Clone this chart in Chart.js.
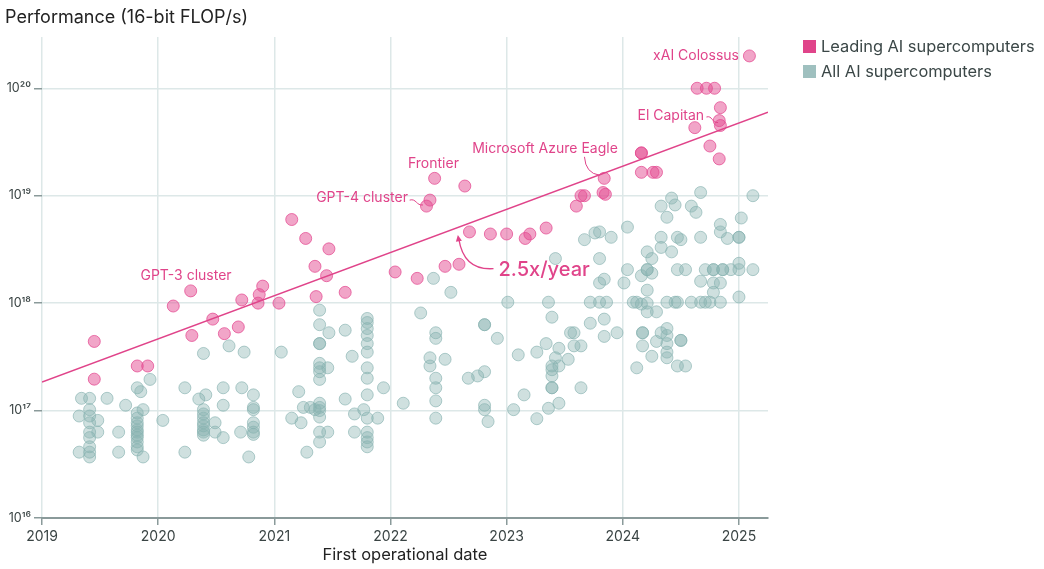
<!DOCTYPE html>
<html>
<head>
<meta charset="utf-8">
<script src="https://cdn.jsdelivr.net/npm/chart.js@4.4.1/dist/chart.umd.min.js"></script>
<style>
  body { margin: 0; background: #fff; font-family: Inter, "Noto Sans", sans-serif; }
  #wrap { position: relative; width: 1044px; height: 569px; }
  #title { position: absolute; left: 5px; top: 6px; font-size: 18px; color: #222; }
  .leg { position: absolute; left: 803px; font-size: 16.4px; color: #3b4747; display: flex; align-items: center; }
  .leg span { display: inline-block; width: 13px; height: 13px; margin-right: 5px; }
</style>
</head>
<body>
<div id="wrap">
  <canvas id="chart" width="1044" height="569"></canvas>
  <div id="title">Performance (16-bit FLOP/s)</div>
  <div class="leg" style="top:36px"><span style="background:#e0448a"></span>Leading AI supercomputers</div>
  <div class="leg" style="top:61px"><span style="background:#9fc0bf"></span>All AI supercomputers</div>
</div>
<script>
// leading AI supercomputers (first operational date, 16-bit FLOP/s)
const leadingYears = [
  2019.45, 2019.45, 2019.82, 2019.91, 2020.13, 2020.28, 2020.29, 2020.47, 2020.57, 2020.69,
  2020.72, 2020.86, 2020.87, 2020.90, 2021.04, 2021.15, 2021.27, 2021.35, 2021.36, 2021.45,
  2021.47, 2021.61, 2022.04, 2022.23, 2022.31, 2022.34, 2022.38, 2022.47, 2022.59, 2022.64,
  2022.68, 2022.86, 2023.00, 2023.16, 2023.20, 2023.34, 2023.60, 2023.64, 2023.67, 2023.84,
  2023.83, 2023.85, 2024.16, 2024.16, 2024.16, 2024.26, 2024.29, 2024.62, 2024.64, 2024.72,
  2024.79, 2024.75, 2024.83, 2024.84, 2024.83, 2024.84, 2025.09
]
const leadingValues = [
  4.4e17, 1.96e17, 2.6e17, 2.6e17, 9.4e17, 1.3e18, 5.0e17, 7.1e17, 5.2e17, 6.0e17,
  1.07e18, 1.0e18, 1.2e18, 1.44e18, 1.0e18, 6.0e18, 4.0e18, 2.2e18, 1.15e18, 1.8e18,
  3.2e18, 1.26e18, 1.95e18, 1.7e18, 8.0e18, 9.1e18, 1.45e19, 2.2e18, 2.3e18, 1.23e19,
  4.6e18, 4.4e18, 4.4e18, 4.0e18, 4.4e18, 5.0e18, 8.0e18, 1.0e19, 1.0e19, 1.45e19,
  1.07e19, 1.03e19, 2.5e19, 2.5e19, 1.65e19, 1.65e19, 1.65e19, 4.3e19, 1.0e20, 1.0e20,
  1.0e20, 2.9e19, 2.2e19, 6.6e19, 5.0e19, 4.5e19, 2.0e20
]

// all AI supercomputers
const allYears = [
  2020.39, 2020.61, 2020.74, 2021.06, 2019.93, 2019.82, 2019.85, 2019.34, 2019.41, 2019.56,
  2019.72, 2020.23, 2020.35, 2020.41, 2020.56, 2020.72, 2020.82, 2020.56, 2020.82, 2020.82,
  2019.32, 2019.41, 2019.41, 2019.41, 2019.41, 2019.41, 2019.41, 2019.41, 2019.41,
  2019.48, 2019.48, 2019.32, 2019.66, 2019.66,
  2019.82, 2019.82, 2019.82, 2019.82, 2019.82, 2019.82, 2019.82, 2019.82, 2019.82, 2019.82, 2019.82,
  2019.87, 2019.87, 2020.04, 2020.23,
  2020.39, 2020.39, 2020.39, 2020.39, 2020.39, 2020.39, 2020.39, 2020.39,
  2020.49, 2020.49, 2020.56, 2020.71, 2020.78, 2020.82, 2020.82, 2020.82, 2020.82,
  2021.39, 2021.39, 2021.47, 2021.39, 2021.39, 2021.61, 2021.67,
  2021.39, 2021.39, 2021.39, 2021.39, 2021.46, 2021.21,
  2021.80, 2021.80, 2021.80, 2021.80, 2021.80, 2021.80, 2021.80, 2021.80, 2021.80,
  2021.94, 2021.61, 2021.39, 2021.39, 2021.39, 2021.39, 2021.25, 2021.31, 2021.35, 2021.15,
  2021.23, 2021.39, 2021.39, 2021.46, 2021.28, 2021.69, 2021.77, 2021.80, 2021.89, 2021.69,
  2021.80, 2021.80, 2021.80, 2021.80, 2022.11,
  2022.26, 2022.37, 2022.39, 2022.39, 2022.34, 2022.34, 2022.47, 2022.39, 2022.39, 2022.39, 2022.39, 2022.52,
  2023.42, 2023.67, 2023.76, 2023.80, 2023.90, 2023.80, 2023.80, 2023.84, 2023.01, 2023.36,
  2023.39, 2023.72, 2023.80, 2023.86, 2023.84, 2023.72, 2023.84, 2023.95, 2022.81, 2022.81,
  2022.92, 2023.55, 2023.58, 2023.58, 2023.64, 2023.34, 2023.45, 2023.10, 2023.26, 2023.42,
  2023.53, 2023.39, 2023.39, 2023.39, 2023.39, 2023.45, 2022.67, 2022.75, 2022.81, 2023.39,
  2023.64, 2023.15, 2023.45, 2022.81, 2022.81, 2022.84, 2023.06, 2023.36, 2023.26,
  2024.67, 2025.12, 2024.33, 2024.42, 2024.45, 2024.59, 2024.63, 2024.38, 2025.02, 2024.84,
  2024.84, 2024.90, 2025.00, 2025.00, 2024.04, 2024.33, 2024.47, 2024.50, 2024.33, 2024.42,
  2024.67, 2024.21, 2024.25, 2024.04, 2024.21, 2024.21, 2024.16, 2024.25, 2024.47, 2024.54,
  2024.71, 2024.78, 2024.78, 2024.86, 2024.86, 2024.93, 2025.00, 2025.12, 2025.00,
  2024.67, 2024.78, 2024.84, 2024.78, 2024.21, 2024.01, 2025.00,
  2024.09, 2024.12, 2024.16, 2024.21, 2024.21, 2024.29, 2024.38, 2024.45, 2024.47,
  2024.59, 2024.67, 2024.71, 2024.75, 2024.84,
  2024.17, 2024.17, 2024.17, 2024.29, 2024.33,
  2024.38, 2024.38, 2024.38, 2024.38, 2024.38, 2024.50, 2024.50,
  2024.25, 2024.12, 2024.47, 2024.54
]
const allValues = [
  3.4e17, 4.0e17, 3.5e17, 3.5e17, 1.95e17, 1.63e17, 1.5e17, 1.3e17, 1.3e17, 1.3e17,
  1.12e17, 1.63e17, 1.28e17, 1.4e17, 1.63e17, 1.63e17, 1.4e17, 1.12e17, 1.07e17, 1.02e17,
  8.9e16, 1.02e17, 8.9e16, 7.7e16, 6.3e16, 5.6e16, 4.6e16, 4.1e16, 3.7e16,
  8.1e16, 6.3e16, 4.1e16, 6.3e16, 4.1e16,
  9.5e16, 8.5e16, 7.7e16, 7.2e16, 6.6e16, 6.3e16, 5.9e16, 5.6e16, 5.1e16, 4.6e16, 4.3e16,
  1.02e17, 3.7e16, 8.1e16, 4.1e16,
  1.02e17, 9.3e16, 8.5e16, 7.7e16, 7.2e16, 6.6e16, 6.3e16, 5.9e16,
  7.7e16, 6.3e16, 5.6e16, 6.3e16, 3.7e16, 7.7e16, 7.0e16, 6.3e16, 6.0e16,
  8.6e17, 6.3e17, 5.3e17, 4.2e17, 4.2e17, 5.6e17, 3.2e17,
  2.75e17, 2.5e17, 2.3e17, 1.95e17, 2.5e17, 1.5e17,
  7.2e17, 6.6e17, 5.8e17, 5.0e17, 4.2e17, 3.5e17, 2.5e17, 2.0e17, 1.4e17,
  1.63e17, 1.28e17, 1.17e17, 1.07e17, 1.0e17, 8.7e16, 1.07e17, 1.07e17, 1.02e17, 8.5e16,
  7.7e16, 6.3e16, 5.1e16, 6.3e16, 4.1e16, 9.3e16, 1.02e17, 8.5e16, 8.5e16, 6.3e16,
  6.3e16, 5.6e16, 5.1e16, 4.6e16, 1.17e17,
  8.1e17, 1.7e18, 5.3e17, 4.7e17, 3.1e17, 2.6e17, 3.0e17, 2.0e17, 1.63e17, 1.23e17, 8.5e16, 1.26e18,
  2.6e18, 3.9e18, 4.5e18, 4.6e18, 4.1e18, 2.6e18, 1.54e18, 1.67e18, 1.02e18, 1.02e18,
  7.4e17, 1.02e18, 1.02e18, 1.02e18, 7.1e17, 6.5e17, 4.9e17, 5.3e17, 6.3e17, 6.3e17,
  4.7e17, 5.3e17, 5.3e17, 4.0e17, 4.0e17, 4.2e17, 3.8e17, 3.3e17, 3.5e17, 3.1e17,
  3.0e17, 2.6e17, 2.4e17, 2.1e17, 1.63e17, 2.6e17, 2.0e17, 2.1e17, 2.3e17, 1.63e17,
  1.63e17, 1.4e17, 1.17e17, 1.12e17, 1.02e17, 7.9e16, 1.02e17, 1.05e17, 8.4e16,
  1.07e19, 1.0e19, 8.0e18, 9.5e18, 8.2e18, 8.0e18, 7.0e18, 6.3e18, 6.2e18, 5.4e18,
  4.6e18, 4.0e18, 4.1e18, 4.1e18, 5.1e18, 4.1e18, 4.1e18, 3.9e18, 3.3e18, 3.0e18,
  4.1e18, 3.0e18, 2.6e18, 2.05e18, 2.05e18, 2.05e18, 1.8e18, 1.9e18, 2.05e18, 2.05e18,
  2.05e18, 2.05e18, 2.05e18, 2.05e18, 2.05e18, 2.05e18, 2.05e18, 2.05e18, 2.35e18,
  1.6e18, 1.54e18, 1.54e18, 1.26e18, 1.32e18, 1.54e18, 1.14e18,
  1.02e18, 1.02e18, 9.8e17, 1.0e18, 8.3e17, 8.3e17, 1.02e18, 1.02e18, 1.02e18,
  1.02e18, 1.02e18, 1.02e18, 1.02e18, 1.02e18,
  5.3e17, 5.3e17, 4.0e17, 4.4e17, 5.3e17,
  5.8e17, 5.0e17, 4.2e17, 3.5e17, 3.1e17, 4.5e17, 4.5e17,
  3.2e17, 2.5e17, 2.6e17, 2.6e17
]

// trend fit, 2.5x per year
const trendYears = [2019, 2025.25]
const trendValues = [1.84e17, 5.98e19]

const yearTicks = [2019, 2020, 2021, 2022, 2023, 2024, 2025]
const powerTicks = [16, 17, 18, 19, 20]

const pink = '#e0448a'
const sup = {'0':'⁰','1':'¹','2':'²','3':'³','4':'⁴','5':'⁵','6':'⁶','7':'⁷','8':'⁸','9':'⁹'}

const notes = [
  { text: 'xAI Colossus', x: 2025.0, y: 2.0e20, align: 'right' },
  { text: 'El Capitan', x: 2024.70, y: 5.5e19, align: 'right' },
  { text: 'Microsoft Azure Eagle', x: 2023.33, y: 2.75e19, align: 'center' },
  { text: 'Frontier', x: 2022.37, y: 2.0e19, align: 'center' },
  { text: 'GPT-4 cluster', x: 2022.15, y: 9.6e18, align: 'right' },
  { text: 'GPT-3 cluster', x: 2020.24, y: 1.8e18, align: 'center' }
]
const leaders = [
  { from: [2022.165, 9.1e18], to: [2022.28, 8.2e18], bend: 'flat' },
  { from: [2023.67, 2.3e19], to: [2023.80, 1.55e19], bend: 'down' },
  { from: [2024.72, 5.4e19], to: [2024.82, 4.8e19], bend: 'flat' }
]

const annotate = {
  id: 'annotate',
  afterDatasetsDraw(chart) {
    const { ctx, scales: { x, y } } = chart
    ctx.save()
    ctx.fillStyle = pink
    ctx.strokeStyle = pink
    ctx.textBaseline = 'middle'
    ctx.font = '14px Inter, "Noto Sans", sans-serif'
    notes.forEach(n => {
      ctx.textAlign = n.align
      ctx.fillText(n.text, x.getPixelForValue(n.x), y.getPixelForValue(n.y))
    })
    ctx.lineWidth = 1
    leaders.forEach(l => {
      const x0 = x.getPixelForValue(l.from[0]), y0 = y.getPixelForValue(l.from[1])
      const x1 = x.getPixelForValue(l.to[0]), y1 = y.getPixelForValue(l.to[1])
      ctx.beginPath()
      ctx.moveTo(x0, y0)
      if (l.bend === 'down') {
        ctx.quadraticCurveTo(x0 + 1, y1 - 2, x1, y1)
      } else {
        const mx = (x0 + x1) / 2
        ctx.bezierCurveTo(mx, y0 - 2, mx, y1 + 1, x1, y1)
      }
      ctx.stroke()
    })

    // 2.5x/year label with curved arrow
    const tx = x.getPixelForValue(2022.93), ty = y.getPixelForValue(2.05e18)
    ctx.font = '500 20px Inter, "Noto Sans", sans-serif'
    ctx.textAlign = 'left'
    ctx.fillText('2.5x/year', tx, ty)
    const ax = x.getPixelForValue(2022.58), ay = y.getPixelForValue(4.3e18)
    const sx = tx - 5, sy = ty - 1
    const cx = ax + 6, cy = sy + 2
    ctx.lineWidth = 1.3
    ctx.beginPath()
    ctx.moveTo(sx, sy)
    ctx.quadraticCurveTo(cx, cy, ax + 1, ay + 4)
    ctx.stroke()
    const ang = Math.atan2(ay - cy, ax - cx)
    ctx.beginPath()
    ctx.moveTo(ax, ay)
    ctx.lineTo(ax - 7 * Math.cos(ang - 0.45), ay - 7 * Math.sin(ang - 0.45))
    ctx.lineTo(ax - 7 * Math.cos(ang + 0.45), ay - 7 * Math.sin(ang + 0.45))
    ctx.closePath()
    ctx.fill()
    ctx.restore()
  }
}

new Chart(document.getElementById('chart'), {
  type: 'scatter',
  data: {
    datasets: [
      {
        type: 'line',
        data: trendYears.map((v, i) => ({ x: v, y: trendValues[i] })),
        borderColor: pink,
        borderWidth: 1.6,
        pointRadius: 0,
        order: 0
      },
      {
        data: leadingYears.map((v, i) => ({ x: v, y: leadingValues[i] })),
        backgroundColor: 'rgba(228,75,145,0.5)',
        borderColor: 'rgba(228,75,145,0.75)',
        borderWidth: 1,
        pointRadius: 6,
        order: 1
      },
      {
        data: allYears.map((v, i) => ({ x: v, y: allValues[i] })),
        backgroundColor: 'rgba(135,178,176,0.4)',
        borderColor: 'rgba(135,178,176,0.65)',
        borderWidth: 1,
        pointRadius: 6,
        order: 2
      }
    ]
  },
  options: {
    responsive: false,
    animation: false,
    layout: { padding: { top: 37, right: 276, left: 0, bottom: 0 } },
    plugins: { legend: { display: false }, tooltip: { enabled: false } },
    scales: {
      x: {
        type: 'linear',
        min: 2019,
        max: 2025.25,
        afterBuildTicks: s => { s.ticks = yearTicks.map(v => ({ value: v })) },
        afterFit: s => { s.height = 51 },
        grid: { color: '#dde8e8', lineWidth: 1.5, tickLength: 7, tickColor: '#8a9a9a', tickWidth: 1.5 },
        border: { color: '#8a9a9a', width: 2 },
        ticks: { color: '#3a4444', font: { size: 14, family: 'Inter' }, padding: 3, callback: v => String(v) },
        title: { display: true, text: 'First operational date', color: '#222', font: { size: 16.5, family: 'Inter' }, padding: { top: 3 } }
      },
      y: {
        type: 'logarithmic',
        min: 1e16,
        max: 3e20,
        afterBuildTicks: s => { s.ticks = powerTicks.map(e => ({ value: Math.pow(10, e) })) },
        afterFit: s => { s.width = 42 },
        grid: { color: '#dde8e8', lineWidth: 1.5, tickLength: 8, tickColor: '#8a9a9a', tickWidth: 1.5 },
        border: { display: false },
        ticks: {
          color: '#3a4444',
          font: { size: 12.5, family: 'Inter' },
          padding: 3,
          callback: v => '10' + String(Math.round(Math.log10(v))).split('').map(c => sup[c]).join('')
        }
      }
    }
  },
  plugins: [annotate]
})
</script>
</body>
</html>
